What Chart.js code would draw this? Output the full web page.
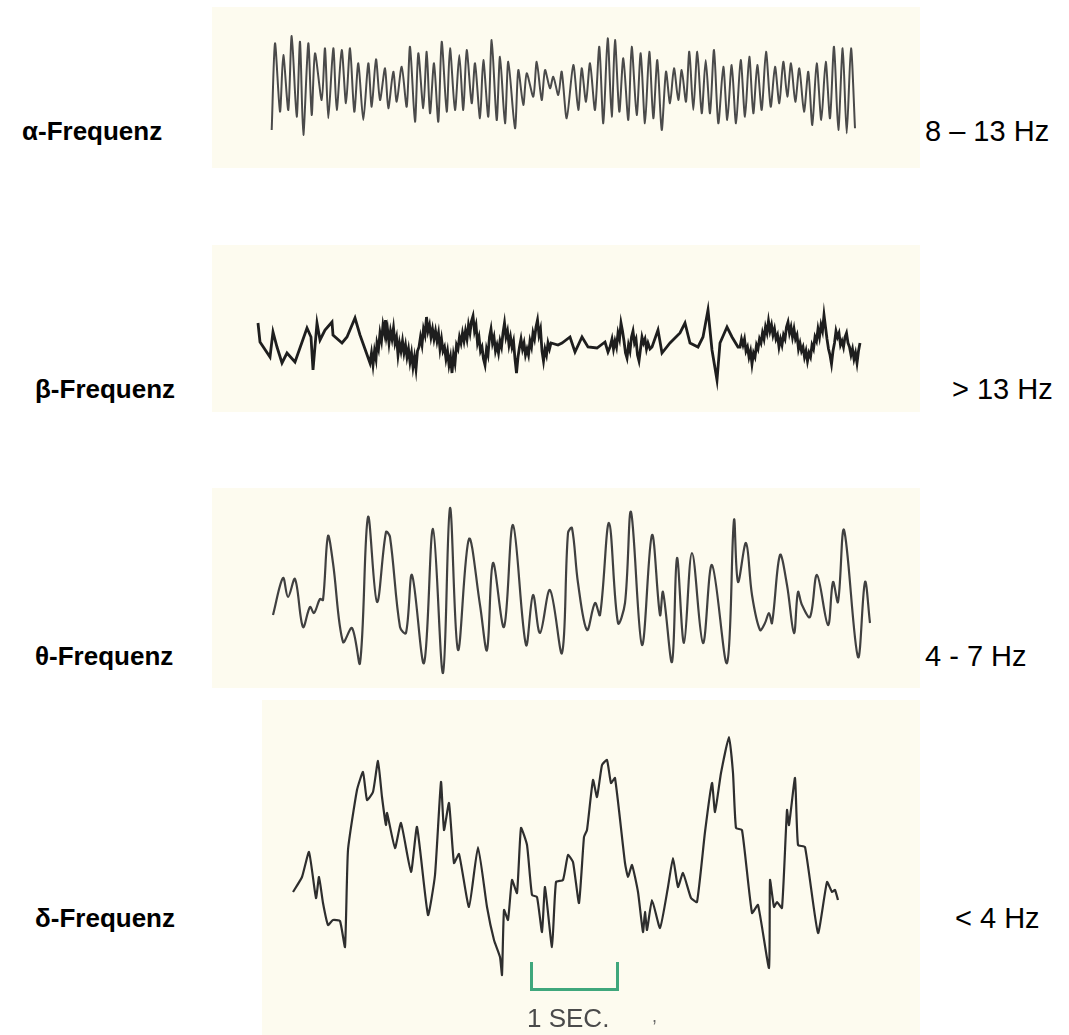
<!DOCTYPE html>
<html lang="de">
<head>
<meta charset="utf-8">
<title>EEG Frequenzbänder</title>
<script src="https://cdn.jsdelivr.net/npm/chart.js@4/dist/chart.umd.min.js"></script>
<style>
    html, body { margin: 0; padding: 0; background: #fff; }
    body { width: 1069px; height: 1035px; position: relative; overflow: hidden; font-family: "Liberation Sans", Arial, sans-serif; }
    .panel { position: absolute; background: #fdfbef; }
    .panel canvas { position: absolute; left: 0; top: 0; }
    .label { position: absolute; font-size: 29px; color: #000; white-space: nowrap; transform: translateY(-50%); }
    .label.left { font-size: 26px; font-weight: bold; }
    .scalebar { position: absolute; left: 530px; top: 962px; width: 83px; height: 26px; border: 3px solid #3fa77c; border-top: none; }
    .seclabel { position: absolute; left: 527px; top: 1003px; font-size: 26px; color: #4a4a4a; }
    .comma { position: absolute; left: 652px; top: 1006px; font-size: 18px; color: #666; }
</style>
</head>
<body>
<div class="label left" style="left:22px; top:131px;">α-Frequenz</div>
<div class="label left" style="left:35px; top:389px;">β-Frequenz</div>
<div class="label left" style="left:35px; top:656px;">θ-Frequenz</div>
<div class="label left" style="left:35px; top:918px;">δ-Frequenz</div>

<div class="label" style="left:925px; top:131px;">8 – 13 Hz</div>
<div class="label" style="left:952px; top:389px;">&gt; 13 Hz</div>
<div class="label" style="left:925px; top:656px;">4 - 7 Hz</div>
<div class="label" style="left:955px; top:918px;">&lt; 4 Hz</div>

<div class="panel" id="alphaPanel"><canvas id="alphaChart"></canvas></div>
<div class="panel" id="betaPanel"><canvas id="betaChart"></canvas></div>
<div class="panel" id="thetaPanel"><canvas id="thetaChart"></canvas></div>
<div class="panel" id="deltaPanel"><canvas id="deltaChart"></canvas></div>

<div class="scalebar"></div>
<div class="seclabel">1 SEC.</div>
<div class="comma">,</div>

<script>
// time (t) and amplitude (v) of the turning points
const alphaT = [1.7, 5, 10, 13.3, 18.3, 21.7, 26.7, 30, 33.3, 38.3, 41.7, 45, 51.7, 55, 58.3, 63.3, 66.7, 71.7, 76, 80,
    84.3, 88.3, 93.3, 98.3, 101.7, 106, 110, 115, 118.3, 123.3, 126.7, 131.7, 136.7, 140, 145, 148.3, 153.3, 156.7, 160, 164,
    168.3, 171.7, 176.7, 180, 185, 189.3, 193.3, 196.7, 201.7, 205, 210, 213.3, 218.3, 221.7, 226.7, 230, 235, 238.3, 245, 248.3,
    253.3, 256.7, 263.3, 266.7, 271.7, 275, 280, 283.3, 288.3, 291.7, 296.7, 303.3, 308.3, 311.7, 316, 320, 325, 329.3, 333.3, 337.7,
    341.7, 345, 349.3, 353.3, 358.3, 361.7, 366.7, 370.7, 375, 379.3, 383.3, 387.3, 391.7, 396, 400, 404, 408.3, 411.7, 416, 419.3,
    423.3, 427.3, 431.7, 435.7, 440, 444, 448.3, 453.3, 457.3, 461.7, 466, 470.7, 475, 479.3, 483.3, 487.3, 491.7, 496, 500.7, 505,
    509.3, 513.3, 517.3, 521, 525.3, 529.3, 534, 538.3, 542.3, 546.7, 551.3, 555.7, 560, 564, 568.3, 572.7, 576.7, 581, 585];
const alphaV = [-57, 29.7, -38.7, 18, -37, 37, -43.7, 31.3, -62, 29.7, -42, 19.7, -27, 24.7, -45.3, 24.7, -37, 23, -30.3, 24.7,
    -38.7, 9.7, -47, 9.7, -33.7, 13.7, -27, 4.7, -35.3, 1.3, -28.7, 6.3, -33.7, 26.3, -48.7, 19.7, -35.3, 21.3, -40.3, 9.7,
    -48.7, 31.3, -38.7, 24.7, -37, 18, -37, 23, -30.3, 9.7, -45.3, 13, -43.7, 33, -47, 16.3, -50.3, 11.3, -55.3, 3,
    -32, -0.3, -23.7, 11.3, -27, 3, -15.3, -3.7, -22, 1.3, -45.3, 8, -37, 4.7, -28.7, 9.7, -37, 26.3, -50.3, 34.7,
    -43.7, 33, -38.7, 14.7, -47, 26.3, -42, 19.7, -50.3, 21.3, -45.3, 13, -57, 1.3, -30.3, 4.7, -27, 3, -28.7, 21.3,
    -37, 21.3, -40.3, 13, -40.3, 23, -50.3, 6.3, -47, 8, -50.3, 13, -43.7, 16.3, -40.3, 8, -37, 21.3, -33.7, 6.3,
    -30.3, 11.3, -23.7, 9.7, -28.7, 4.7, -38.7, 1.3, -52, 9.7, -47, 11.3, -45.3, 26.3, -57, 24.7, -60.3, 24.7, -55.3];

const betaT = [3, 5, 15, 18, 22, 27, 32, 40, 52, 56, 58, 62, 65, 70, 77, 78, 87, 92, 100, 105,
    115, 116.5, 118, 119.5, 121, 122, 123.5, 125, 126.5, 128, 129.5, 130.5, 131.5, 132.5, 134, 135.5, 137, 138.5, 140, 141.5,
    143, 144.5, 146, 147.5, 149, 150.5, 152, 153.5, 155, 156.5, 158, 159.5, 161, 162.5, 164, 165.5, 167, 168.5, 170, 171.5,
    173, 174.5, 176, 177.5, 179, 180.5, 182, 183.5, 185, 186.5, 188, 189.5, 191, 192.5, 194, 195.5, 197, 198.5, 200, 201.5,
    203, 204.5, 206, 207.5, 209, 210.5, 212, 213.5, 215, 216.5, 218, 219.5, 221, 222.5, 224, 225.5, 227, 228.5, 230, 231.5,
    233, 234.5, 236, 237.5, 239, 240.5, 242, 243.5, 245, 246.5, 248, 249.5, 251, 252.5, 254, 255.5, 257, 258.5, 260, 261.5,
    263, 264.5, 266, 267.5, 269, 270.5, 272, 273.5, 275, 276.5, 278, 279.5, 281, 282.5, 284, 285.5, 287, 288.5, 290, 291.5,
    293, 294.5, 296, 303, 307, 315, 320, 327, 333, 342, 350, 353,
    355, 357, 358.5, 360, 361.5, 363, 364.5, 366, 367.5, 369, 370.5, 372, 373.5, 375, 376.5, 378, 379.5, 381, 382.5, 384,
    385.5, 387, 388.5, 390, 391.5, 393, 395, 397, 403, 407, 415, 425, 430, 435, 443, 448, 453, 457, 462, 465, 472, 477, 483,
    485, 486.5, 488, 489.5, 491, 492.5, 494, 495.5, 497, 498.5, 500, 501.5, 503, 504.5, 506, 507.5, 509, 510.5, 512, 513.5,
    515, 516.5, 518, 519.5, 521, 522.5, 524, 525.5, 527, 528.5, 530, 531.5, 533, 534.5, 536, 537.5, 539, 540.5, 542, 543.5,
    545, 546.5, 548, 549.5, 551, 552.5, 554, 555.5, 557, 558.5, 560, 561.5, 563, 564.5, 566, 567.5, 569, 570.5, 572, 573.5,
    575, 576.5, 578, 579.5, 581, 582.5, 584, 585.5, 587, 588.5, 590, 591.5, 593, 594.5, 596, 597.5, 599, 600.5, 602, 603.5, 605];
const betaV = [22, 3, -12, 13, -2, -18, -8, -17, 17, 8, -25, 22, 5, 15, 23, 10, 2, 8, 27, 10,
    -18, -8, -20, -6, -14, 2, -4, 12, 4, 20, 12, 25, 10, 16, 2, 14, 6, 17, 2, 8,
    -10, 2, -6, 4, -8, 0, -12, -4, -17, -8, -22, -12, -24, -6, -2, 8, 0, 16, 10, 28,
    14, 20, 8, 16, 6, 14, 4, 12, -4, 6, -6, -2, -14, -6, -20, -12, -28, -10, -18, 0,
    -4, 8, 2, 12, 4, 14, 6, 20, 12, 24, 29, 14, 20, 2, 8, -6, -2, -14, -20, -4,
    -10, 8, 16, 2, 8, -6, 0, -8, 4, -2, 12, 22, 8, 14, 0, 8, -2, 4, -14, -28,
    -12, -2, 6, -4, 2, -10, -4, -10, 4, -2, 12, 6, 18, 25, 10, 16, -6, -16, -4, -10,
    2, -4, 2, 0, 2, 8, -7, 8, -2, -3, 3, -7,
    -2, 6, -4, 4, -2, 12, 6, 22, 14, 4, -8, -13, 0, -6, 8, 14, 2, 6, -10, -16,
    -4, 8, 2, 6, -4, 2, -4, -2, 15, -8, 2, 12, 22, 2, -2, 8, 35, -5, -35, 2, 18, 8, -2,
    -2, 6, 0, 6, -6, -2, -12, -6, -19, -8, -12, 0, -4, 6, 2, 12, 6, 18, 12, 24,
    14, 20, 10, 16, 6, 10, -2, 6, 0, 10, 6, 18, 23, 12, 18, 8, 16, 6, 10, -4,
    2, -6, -2, -12, -6, -16, -8, -12, 0, -4, 8, 4, 16, 8, 20, 14, 30, 18, 6, -4,
    -10, -19, -6, 2, 14, 8, 12, 0, 4, -2, 8, 12, 2, -2, -10, -4, -14, -8, -18, -6, 2];

const thetaT = [3, 13, 18, 25, 33, 40, 44, 50, 53, 58, 63, 73, 82, 90, 98, 107, 116, 120, 130, 136,
    142, 154, 163, 173, 180, 188, 199, 210, 217, 223, 234, 243, 256, 263, 270, 280, 292, 298, 302, 308,
    317, 325, 330, 339, 348, 355, 361, 372, 382, 390, 393, 402, 407, 414, 422, 433, 442, 457, 464, 468,
    476, 482, 490, 495, 499, 502, 510, 517, 524, 528, 532, 540, 547, 558, 563, 568, 574, 588, 595, 600];
const thetaV = [-20, 17, -2, 16, -32, -12, -18, -4, -5, 59, 32, -47, -33, -68, 78, -7, 63, 58, -32, -38,
    20, -68, 66, -78, 87, -55, 56, -10, -55, 32, -32, 70, -50, 0, -38, 5, -58, 62, 67, 12,
    -35, -8, -20, 72, -28, -8, 83, -50, 60, -20, 3, -67, 37, -48, 42, -48, 30, -68, 75, 13,
    52, 0, -35, -28, -18, -28, 40, 10, -38, 3, -10, -22, 20, -30, 13, -7, 65, -62, 13, -28];

const deltaT = [3, 12, 19, 26, 29, 33, 38, 43, 50, 55, 58, 67, 73, 77, 83, 88, 92, 96, 97, 105,
    111, 121, 127, 138, 145, 151, 154, 159, 164, 169, 179, 188, 197, 204, 210, 212, 214, 218, 222, 227,
    231, 237, 242, 247, 252, 255, 262, 266, 273, 278, 283, 289, 294, 297, 303, 307, 312, 317, 321, 325,
    335, 338, 342, 348, 353, 355, 357, 362, 370, 378, 383, 388, 393, 401, 407, 415, 422, 425, 431, 439,
    443, 446, 452, 462, 468, 479, 480, 484, 487, 492, 497, 499, 505, 508, 515, 528, 537, 542, 545, 548];
const deltaV = [-32, -17, 8, -38, -17, -43, -65, -60, -61, -87, 10, 70, 88, 60, 68, 99, 63, 35, 47, 12,
    37, -12, 33, -55, -15, 78, 30, 57, -3, 6, -47, 13, -47, -80, -97, -115, -50, -60, -20, -33,
    32, 15, -35, -37, -72, -27, -87, -22, -20, 5, -2, -43, 23, 30, 80, 63, 95, 100, 77, 82,
    -3, -17, -5, -32, -72, -52, -70, -40, -68, -27, 2, -27, -13, -38, -42, 28, 77, 48, 87, 123,
    87, 32, 30, -53, -45, -108, -20, -47, -42, -48, 50, 35, 82, 15, 13, -73, -22, -32, -30, -40];

// panel boxes on the page; t0/base give where t=0 and v=0 fall inside the box
const panels = [
    { name: 'alpha', left: 212, top: 7, width: 708, height: 161, t0: 270, base: 73, t: alphaT, v: alphaV, color: '#4a4a4a', lineWidth: 2, tension: 0.25 },
    { name: 'beta', left: 212, top: 245, width: 708, height: 167, t0: 255, base: 345, t: betaT, v: betaV, color: '#1e1e1e', lineWidth: 2.8, tension: 0 },
    { name: 'theta', left: 212, top: 488, width: 708, height: 200, t0: 270, base: 595, t: thetaT, v: thetaV, color: '#404040', lineWidth: 2.2, tension: 0.35 },
    { name: 'delta', left: 262, top: 700, width: 658, height: 335, t0: 290, base: 860, t: deltaT, v: deltaV, color: '#2e2e2e', lineWidth: 2.2, tension: 0.15 }
];

document.addEventListener('DOMContentLoaded', () => {
    panels.forEach(p => {
        const box = document.getElementById(p.name + 'Panel');
        box.style.left = p.left + 'px';
        box.style.top = p.top + 'px';
        box.style.width = p.width + 'px';
        box.style.height = p.height + 'px';

        const canvas = document.getElementById(p.name + 'Chart');
        canvas.width = p.width;
        canvas.height = p.height;

        drawTrace(canvas.getContext('2d'), p);
    });
});

// One bare line chart per band, axes hidden so only the trace shows
function drawTrace(ctx, p) {
    const points = p.t.map((t, i) => ({ x: t, y: p.v[i] }));
    new Chart(ctx, {
        type: 'line',
        data: {
            datasets: [{
                data: points,
                borderColor: p.color,
                borderWidth: p.lineWidth,
                tension: p.tension,
                pointRadius: 0,
                fill: false
            }]
        },
        options: {
            responsive: false,
            animation: false,
            devicePixelRatio: 1,
            layout: { padding: 0 },
            plugins: { legend: { display: false }, tooltip: { enabled: false } },
            scales: {
                x: { type: 'linear', display: false, min: p.left - p.t0, max: p.left + p.width - p.t0 },
                y: { display: false, min: p.base - (p.top + p.height), max: p.base - p.top }
            }
        }
    });
}
</script>
</body>
</html>
